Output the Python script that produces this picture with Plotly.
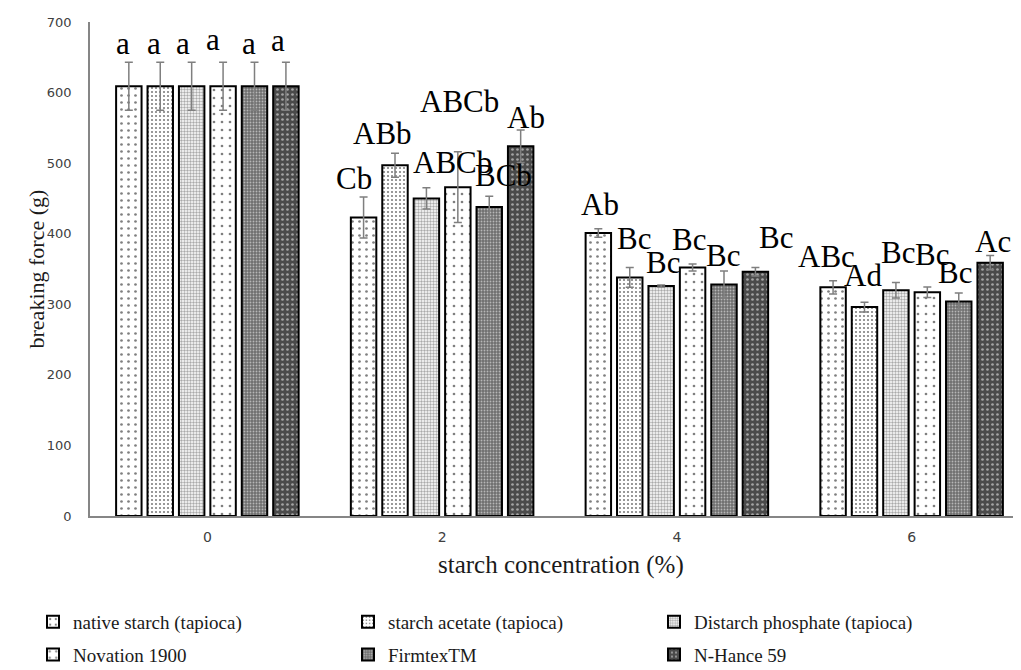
import plotly.graph_objects as go

# ---------------- data ----------------
categories = ["0", "2", "4", "6"]           # starch concentration (%)
series_names = ["native starch (tapioca)", "starch acetate (tapioca)",
                "Distarch phosphate (tapioca)", "Novation 1900",
                "FirmtexTM", "N-Hance 59"]

native_vals = [609, 423, 401, 324]
acetate_vals = [609, 497, 338, 296]
distarch_vals = [609, 450, 326, 320]
novation_vals = [609, 466, 352, 317]
firmtex_vals = [609, 438, 328, 304]
nhance_vals = [609, 524, 346, 359]

native_err = [34, 29, 6, 9.5]
acetate_err = [34, 17, 14, 7]
distarch_err = [34, 15, 1.5, 11]
novation_err = [34, 50, 5, 7.5]
firmtex_err = [34, 15, 19, 12]
nhance_err = [34, 23, 6, 10]

native_lbl = ["a", "Cb", "Ab", "ABc"]
acetate_lbl = ["a", "ABb", "Bc", "Ad"]
distarch_lbl = ["a", "ABCb", "Bc", "Bc"]
novation_lbl = ["a", "ABCb", "Bc", "Bc"]
firmtex_lbl = ["a", "BCb", "Bc", "Bc"]
nhance_lbl = ["a", "Ab", "Bc", "Ac"]

values = [native_vals, acetate_vals, distarch_vals, novation_vals, firmtex_vals, nhance_vals]
errors = [native_err, acetate_err, distarch_err, novation_err, firmtex_err, nhance_err]
labels = [native_lbl, acetate_lbl, distarch_lbl, novation_lbl, firmtex_lbl, nhance_lbl]

# ---------------- style ----------------
patterns = [
    dict(shape=".", bgcolor="white", fgcolor="black", size=7, solidity=0.12),
    dict(shape=".", bgcolor="white", fgcolor="black", size=4, solidity=0.22),
    dict(shape=".", bgcolor="white", fgcolor="#555555", size=3, solidity=0.5),
    dict(shape=".", bgcolor="white", fgcolor="black", size=8, solidity=0.09),
    dict(shape=".", bgcolor="#6e6e6e", fgcolor="white", size=3, solidity=0.3),
    dict(shape=".", bgcolor="#4a4a4a", fgcolor="white", size=5, solidity=0.22),
]
legend_ids = ["legend", "legend2", "legend3", "legend", "legend2", "legend3"]

# label offsets in px: (dx from bar centre, dy baseline above error-bar top)
label_dx = [[-6, -10, 2, -7], [-6, -13, 4, -2], [-9, 26, 2, 2],
            [-10, 2, -4, 5], [-6, 14, -1, -4], [-8, 5, 21, 3]]
label_dy = [[9, 9, 15, 15], [9, 10, 20, 17], [9, 16, 13, 20],
            [13, 41, 15, 23], [9, 11, 6, 11], [12, 3, 21, 5]]

BARGAP = 0.197
BARGROUPGAP = 0.19
SERIF = "Liberation Serif"
SANS = "DejaVu Sans"

x_idx = list(range(len(categories)))

fig = go.Figure()
for i, name in enumerate(series_names):
    fig.add_trace(go.Bar(
        x=x_idx, y=values[i], name=name,
        marker=dict(color="white", pattern=patterns[i],
                    line=dict(color="black", width=2)),
        error_y=dict(type="data", array=errors[i], visible=True,
                     color="#7f7f7f", thickness=1.5, width=4),
        legend=legend_ids[i], legendgroup=f"g{i}",
    ))

slot = (1 - BARGAP) / len(series_names)
annotations = []
for i in range(len(series_names)):
    for k in range(len(categories)):
        annotations.append(dict(
            x=k + (i - (len(series_names) - 1) / 2) * slot,
            y=values[i][k] + errors[i][k],
            xref="x", yref="y", text=labels[i][k], showarrow=False,
            xanchor="center", yanchor="bottom",
            xshift=label_dx[i][k], yshift=label_dy[i][k] - 10,
            font=dict(family=SERIF, size=31, color="black"),
        ))

# axis titles
annotations.append(dict(x=0.5016, y=-0.099, xref="paper", yref="paper",
                        text="starch concentration (%)", showarrow=False,
                        xanchor="center", yanchor="middle",
                        font=dict(family=SERIF, size=25, color="#1a1a1a")))
annotations.append(dict(x=-0.057, y=0.5, xref="paper", yref="paper",
                        text="breaking force (g)", showarrow=False, textangle=-90,
                        xanchor="center", yanchor="middle",
                        font=dict(family=SERIF, size=22, color="#1a1a1a")))

legend_common = dict(orientation="v", xanchor="left", yanchor="top",
                     xref="container", yref="container",
                     bgcolor="rgba(0,0,0,0)", tracegroupgap=5,
                     font=dict(family=SERIF, size=19, color="#1a1a1a"))
legend_top = 1 - 595 / 670

fig.update_layout(
    width=1021, height=670,
    margin=dict(l=82, r=0, t=14, b=162, autoexpand=False),
    paper_bgcolor="white", plot_bgcolor="white",
    barmode="group", bargap=BARGAP, bargroupgap=BARGROUPGAP,
    annotations=annotations,
    xaxis=dict(range=[-0.5, 3.5], tickvals=x_idx, ticktext=categories,
               showline=True, linecolor="#868686", linewidth=1.5,
               showgrid=False, zeroline=False, ticks="",
               ticklabelstandoff=7,
               tickfont=dict(family=SANS, size=14, color="#404040")),
    yaxis=dict(range=[0, 700], dtick=100, showline=True, linecolor="#868686",
               linewidth=1.5, showgrid=False, zeroline=False, ticks="",
               ticklabelstandoff=14,
               tickfont=dict(family=SANS, size=13, color="#404040")),
    legend=dict(x=25 / 1021, y=legend_top, **legend_common),
    legend2=dict(x=340 / 1021, y=legend_top, **legend_common),
    legend3=dict(x=646 / 1021, y=legend_top, **legend_common),
    showlegend=True,
)

fig.write_html("out.html")
